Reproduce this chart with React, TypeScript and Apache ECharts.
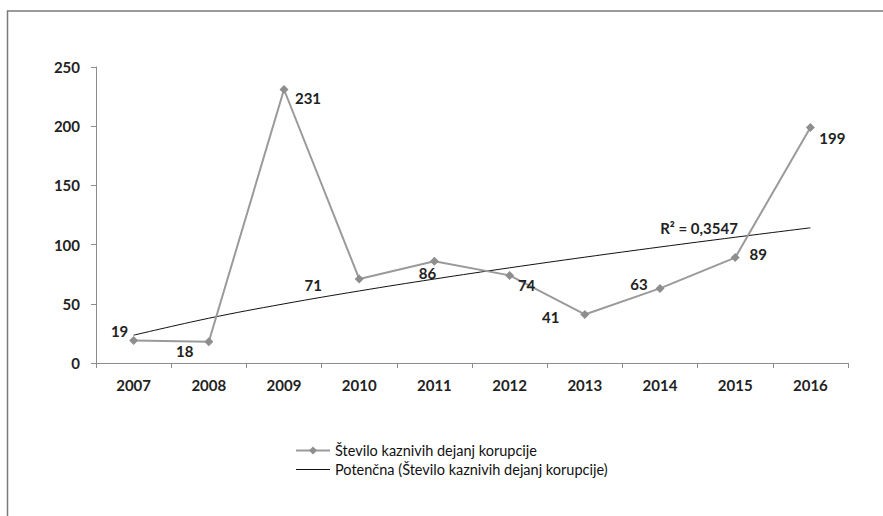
import React, { useEffect, useRef } from "react";
import * as echarts from "echarts";

const years = ["2007", "2008", "2009", "2010", "2011", "2012", "2013", "2014", "2015", "2016"];
const cases = [19, 18, 231, 71, 86, 74, 41, 63, 89, 199];
// label offsets (dx, dy) from each point, as in the reference
const labelOffsets: [number, number][] = [
  [-14, -10], [-24, 9], [24, 9], [-46, 6], [-7, 12], [17, 10], [-34, 3], [-21, -4], [23, -4], [22, 11],
];
const seriesName = "Število kaznivih dejanj korupcije";
const trendName = "Potenčna (Število kaznivih dejanj korupcije)";
const r2Text = "R² = 0,3547";

// power trendline y = a * x^b fitted to the data (least squares on logs)
function powerFit(vals: number[]) {
  const lx = vals.map((_, i) => Math.log(i + 1));
  const ly = vals.map((v) => Math.log(v));
  const n = vals.length;
  const mx = lx.reduce((s, v) => s + v, 0) / n;
  const my = ly.reduce((s, v) => s + v, 0) / n;
  let sxy = 0, sxx = 0;
  for (let i = 0; i < n; i++) {
    sxy += (lx[i] - mx) * (ly[i] - my);
    sxx += (lx[i] - mx) * (lx[i] - mx);
  }
  const b = sxy / sxx;
  const a = Math.exp(my - b * mx);
  return vals.map((_, i) => a * Math.pow(i + 1, b));
}

const FONT = "Lato, 'Open Sans', sans-serif";

export default function App() {
  const ref = useRef<HTMLDivElement>(null);
  useEffect(() => {
    if (!ref.current) return;
    const chart = echarts.init(ref.current, null, { renderer: "svg" });
    const trend = powerFit(cases);
    const symbolSize = 9;
    chart.setOption({
      animation: false,
      backgroundColor: "#ffffff",
      textStyle: { fontFamily: FONT },
      grid: { left: 96, right: 35, top: 67, bottom: 153 },
      graphic: [
        {
          type: "rect",
          shape: { x: 7.5, y: 11, width: 1000, height: 1000 },
          style: { fill: "none", stroke: "#7a7a7a", lineWidth: 1.5 },
          silent: true,
        },
        {
          type: "text",
          x: 699,
          y: 228,
          style: {
            text: r2Text,
            fontFamily: FONT,
            fontSize: 15,
            fontWeight: "bold",
            fill: "#222",
            align: "center",
            verticalAlign: "middle",
          },
        },
      ],
      legend: {
        orient: "vertical",
        left: 290,
        top: 438,
        itemWidth: 34,
        itemHeight: 10,
        itemGap: 4,
        textStyle: { fontFamily: FONT, fontSize: 14.5, color: "#111" },
        data: [
          { name: seriesName },
          { name: trendName, icon: "path://M0,0 L36,0 L36,1 L0,1 Z" },
        ],
      },
      xAxis: {
        type: "category",
        data: years,
        boundaryGap: true,
        axisLine: { lineStyle: { color: "#8c8c8c", width: 1 } },
        axisTick: { show: true, length: 5, lineStyle: { color: "#8c8c8c" } },
        axisLabel: { color: "#222", fontSize: 15, fontWeight: "bold", margin: 14, fontFamily: FONT },
        splitLine: { show: false },
      },
      yAxis: {
        type: "value",
        min: 0,
        max: 250,
        interval: 50,
        axisLine: { show: true, lineStyle: { color: "#8c8c8c", width: 1 } },
        axisTick: { show: true, length: 5, lineStyle: { color: "#8c8c8c" } },
        axisLabel: { color: "#222", fontSize: 15, fontWeight: "bold", margin: 16, fontFamily: FONT },
        splitLine: { show: false },
      },
      series: [
        {
          name: seriesName,
          type: "line",
          data: cases.map((v, i) => ({
            value: v,
            label: {
              show: true,
              position: [labelOffsets[i][0] + symbolSize / 2, labelOffsets[i][1] + symbolSize / 2],
              align: "center",
              verticalAlign: "middle",
            },
          })),
          symbol: "diamond",
          symbolSize: symbolSize,
          itemStyle: { color: "#8e8e8e" },
          lineStyle: { color: "#9a9a9a", width: 2 },
          label: {
            show: true,
            fontFamily: FONT,
            fontSize: 15,
            fontWeight: "bold",
            color: "#222",
          },
          z: 3,
        },
        {
          name: trendName,
          type: "line",
          data: trend,
          symbol: "none",
          smooth: 0.4,
          lineStyle: { color: "#111", width: 1 },
          itemStyle: { color: "#111" },
          z: 2,
        },
      ],
    });
    return () => chart.dispose();
  }, []);
  return (
    <div
      ref={ref}
      style={{ position: "absolute", left: 0, top: 0, width: 883, height: 516 }}
    />
  );
}
